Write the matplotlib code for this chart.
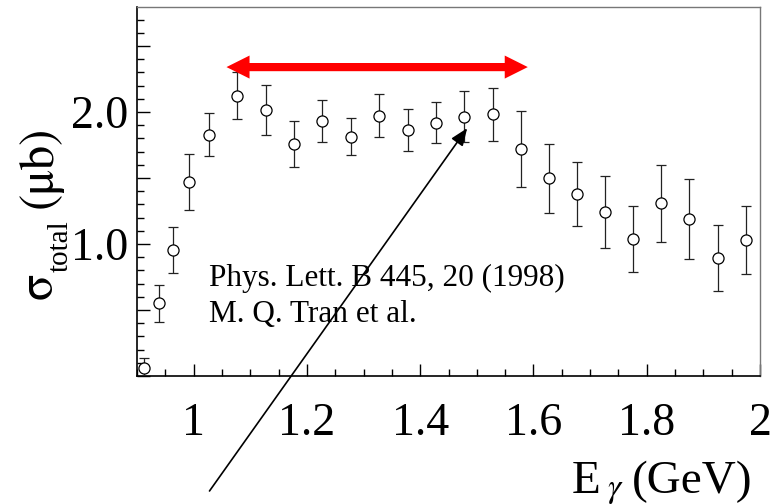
import matplotlib
matplotlib.use("Agg")
import matplotlib.pyplot as plt
from matplotlib.ticker import MultipleLocator, FuncFormatter

# Total photoproduction cross section vs photon energy
e_gamma = [0.912, 0.938, 0.963, 0.991, 1.027, 1.077, 1.127, 1.177, 1.227,
           1.277, 1.327, 1.378, 1.428, 1.478, 1.528, 1.578, 1.627, 1.677,
           1.726, 1.776, 1.825, 1.875, 1.926, 1.976]
sigma = [0.058, 0.551, 0.955, 1.467, 1.826, 2.123, 2.015, 1.758, 1.934,
         1.813, 1.972, 1.864, 1.919, 1.964, 1.983, 1.720, 1.498, 1.377,
         1.245, 1.038, 1.308, 1.189, 0.896, 1.030]
sigma_err = [0.076, 0.141, 0.174, 0.211, 0.163, 0.180, 0.188, 0.173, 0.160,
             0.138, 0.163, 0.161, 0.157, 0.193, 0.200, 0.290, 0.260, 0.244,
             0.273, 0.247, 0.294, 0.300, 0.250, 0.254]

# Energy band marked by the red double arrow
band_lo, band_hi, band_y = 1.058, 1.590, 2.34
# Pointer arrow (start below the axis, tip at a data point)
pointer_from = (1.028, -0.871)
pointer_to = (1.483, 1.877)

W, H = 776, 504
fig = plt.figure(figsize=(W / 100, H / 100), dpi=100)
ax = fig.add_axes([137 / W, 1 - 376 / H, (760 - 137) / W, (376 - 7) / H])

serif = ["Liberation Serif", "DejaVu Serif"]
greek = ["STIXGeneral", "Liberation Serif", "DejaVu Serif"]

ax.errorbar(e_gamma, sigma, yerr=sigma_err, fmt="o", color="black",
            ecolor="#222222", elinewidth=0.9, capsize=3.6, capthick=0.9,
            markersize=8, markerfacecolor="white", markeredgecolor="black",
            markeredgewidth=0.9, zorder=3)

ax.set_xlim(0.9, 2.0)
ax.set_ylim(0.0, 2.795)

ax.xaxis.set_major_locator(MultipleLocator(0.2))
ax.xaxis.set_minor_locator(MultipleLocator(0.05))
ax.yaxis.set_major_locator(MultipleLocator(0.5))
ax.yaxis.set_minor_locator(MultipleLocator(0.1))
ax.xaxis.set_major_formatter(FuncFormatter(lambda v, p: f"{v:g}"))
ax.yaxis.set_major_formatter(
    FuncFormatter(lambda v, p: f"{v:.1f}" if abs(v - round(v)) < 1e-6 and v > 0.5 else ""))

ax.tick_params(axis="both", which="both", direction="in", top=False, right=False)
ax.tick_params(axis="both", which="major", length=9, width=1.0)
ax.tick_params(axis="both", which="minor", length=5, width=1.0)
ax.tick_params(axis="x", which="major", pad=19)
ax.tick_params(axis="y", which="major", pad=6)
for lab in ax.get_xticklabels() + ax.get_yticklabels():
    lab.set_fontfamily(serif)
    lab.set_fontsize(33)

for side in ("left", "bottom"):
    ax.spines[side].set_linewidth(1.2)
    ax.spines[side].set_color("black")
for side in ("top", "right"):
    ax.spines[side].set_linewidth(1.0)
    ax.spines[side].set_color("#777777")

# Reference text
ax.text(1.028, 0.685, "Phys. Lett. B 445, 20 (1998)", fontfamily=serif,
        fontsize=22.5, ha="left", va="baseline")
ax.text(1.028, 0.407, "M. Q. Tran et al.", fontfamily=serif,
        fontsize=22.5, ha="left", va="baseline")

# Red double arrow spanning the energy band
for start, end in (((band_lo, band_y), (band_hi, band_y)),
                   ((band_hi, band_y), (band_lo, band_y))):
    ax.annotate("", xy=end, xytext=start, annotation_clip=False,
                arrowprops=dict(arrowstyle="simple,head_length=16.6,head_width=16.6,tail_width=5.8",
                                mutation_scale=1, color="red", lw=0,
                                shrinkA=12, shrinkB=0), zorder=4)

# Black pointer arrow
ax.annotate("", xy=pointer_to, xytext=pointer_from, annotation_clip=False,
            arrowprops=dict(arrowstyle="-|>,head_length=1.05,head_width=0.42",
                            mutation_scale=10, color="black", lw=1.2,
                            shrinkA=0, shrinkB=0), zorder=5)


def fpos(x, y):
    return x / W, 1 - y / H


# Axis titles built from pieces (ROOT-style subscripts)
fig.text(*fpos(52, 299), "\u03c3", fontfamily=greek, fontsize=35, rotation=90,
         rotation_mode="anchor", ha="left", va="baseline")
fig.text(*fpos(68, 272), "total", fontfamily=serif, fontsize=21, rotation=90,
         rotation_mode="anchor", ha="left", va="baseline")
fig.text(*fpos(52, 208), "(\u03bcb)", fontfamily=greek, fontsize=35, rotation=90,
         rotation_mode="anchor", ha="left", va="baseline")

fig.text(*fpos(572, 493), "E", fontfamily=serif, fontsize=34,
         ha="left", va="baseline")
fig.text(*fpos(607, 497), "\u03b3", fontfamily=greek, fontsize=24,
         style="italic", ha="left", va="baseline")
fig.text(*fpos(632, 493), "(GeV)", fontfamily=serif, fontsize=34,
         ha="left", va="baseline")

fig.savefig("out.png", dpi=100)
